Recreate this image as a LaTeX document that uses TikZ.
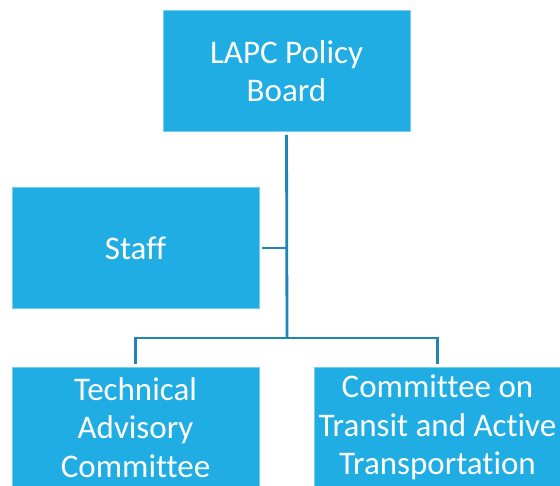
\documentclass[tikz,border=0pt]{standalone}
\usepackage{fontspec}
\setmainfont[Ligatures={NoCommon}]{Carlito}
\definecolor{boxfill}{HTML}{1FADE3}
\definecolor{linecol}{HTML}{1E86B4}
\begin{document}
\begin{tikzpicture}[x=1pt,y=-1pt,
  orgbox/.style={rectangle, fill=boxfill, draw=boxfill!60!white, line width=0.6pt,
    minimum width=247pt, minimum height=121pt, inner sep=0pt,
    text=white, align=center, font=\fontsize{33}{38.5}\selectfont},
  conn/.style={draw=linecol, line width=2.8pt, shorten <=3pt, shorten >=3pt}]
\clip (0,0) rectangle (560,485);
\fill[white] (0,0) rectangle (560,485);
\node[orgbox] (top) at (286.5,71) {LAPC Policy\\Board};
\node[orgbox] (staff) at (135.5,248) {Staff};
\node[orgbox] (tac) at (135.5,427.5) {Technical\\Advisory\\Committee};
\node[orgbox] (ctat) at (437.5,427.5) {Committee on\\Transit and Active\\Transportation};
\coordinate (bus) at (287,338);
\draw[conn, shorten >=0pt] (top.south) -- (bus);
\draw[conn, shorten >=0pt] (staff.east) -- (staff.east -| bus);
\draw[conn] (tac.north) -- (tac.north |- bus) -- (ctat.north |- bus) -- (ctat.north);
\end{tikzpicture}
\end{document}
